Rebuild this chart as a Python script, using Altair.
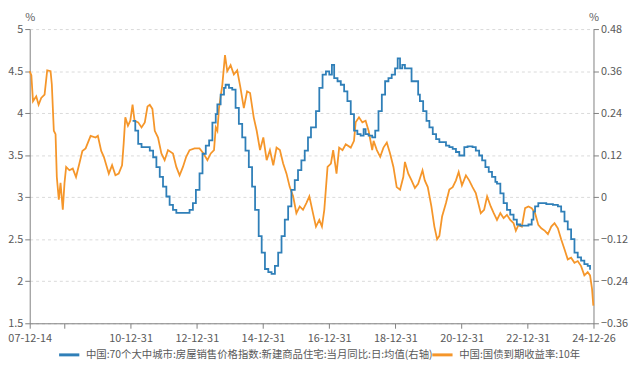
import altair as alt
import pandas as pd

BLUE_NAME = "中国:70个大中城市:房屋销售价格指数:新建商品住宅:当月同比:日:均值(右轴)"
ORANGE_NAME = "中国:国债到期收益率:10年"
BLUE = "#2f7fb8"
ORANGE = "#f5962a"
AX = "#808080"
TXT = "#595959"
FONT = "Noto Sans CJK SC"

# 10Y government bond yield (left axis, %), time in decimal years
yield_t = [2007.95, 2008.00, 2008.05, 2008.15, 2008.22, 2008.30, 2008.40, 2008.48, 2008.58, 2008.62,
           2008.68, 2008.73, 2008.77, 2008.83, 2008.88, 2008.95, 2009.00, 2009.05, 2009.15, 2009.25,
           2009.35, 2009.45, 2009.54, 2009.64, 2009.79, 2009.94, 2010.01, 2010.11, 2010.19, 2010.34,
           2010.44, 2010.54, 2010.64, 2010.74, 2010.79, 2010.84, 2010.92, 2010.99, 2011.06, 2011.12,
           2011.23, 2011.33, 2011.43, 2011.51, 2011.58, 2011.66, 2011.73, 2011.83, 2011.93, 2012.03,
           2012.13, 2012.28, 2012.38, 2012.48, 2012.58, 2012.68, 2012.78, 2012.93, 2013.08, 2013.20,
           2013.32, 2013.42, 2013.52, 2013.57, 2013.62, 2013.67, 2013.77, 2013.85, 2013.92, 2014.02,
           2014.12, 2014.22, 2014.32, 2014.42, 2014.52, 2014.61, 2014.72, 2014.81, 2014.91, 2015.01,
           2015.11, 2015.21, 2015.31, 2015.41, 2015.51, 2015.61, 2015.71, 2015.81, 2015.91, 2016.01,
           2016.11, 2016.21, 2016.31, 2016.40, 2016.51, 2016.60, 2016.70, 2016.78, 2016.85, 2016.95,
           2017.05, 2017.12, 2017.22, 2017.30, 2017.40, 2017.50, 2017.65, 2017.75, 2017.80, 2017.90,
           2018.00, 2018.10, 2018.19, 2018.30, 2018.34, 2018.44, 2018.54, 2018.64, 2018.74, 2018.84,
           2018.94, 2019.04, 2019.14, 2019.24, 2019.29, 2019.39, 2019.49, 2019.59, 2019.69, 2019.82,
           2019.89, 2019.98, 2020.09, 2020.18, 2020.26, 2020.33, 2020.41, 2020.53, 2020.63, 2020.73,
           2020.83, 2020.91, 2021.01, 2021.13, 2021.23, 2021.33, 2021.43, 2021.58, 2021.68, 2021.77,
           2021.88, 2021.97, 2022.07, 2022.17, 2022.27, 2022.37, 2022.47, 2022.57, 2022.64, 2022.72,
           2022.82, 2022.92, 2023.02, 2023.12, 2023.22, 2023.32, 2023.41, 2023.52, 2023.61, 2023.71,
           2023.81, 2023.91, 2024.01, 2024.11, 2024.21, 2024.31, 2024.41, 2024.51, 2024.61, 2024.71,
           2024.81, 2024.88, 2024.94, 2024.98]
yield_v = [4.50, 4.45, 4.14, 4.20, 4.10, 4.18, 4.22, 4.51, 4.50, 4.34,
           3.79, 3.75, 3.24, 2.97, 3.17, 2.85, 3.17, 3.36, 3.32, 3.34,
           3.24, 3.40, 3.55, 3.58, 3.73, 3.71, 3.73, 3.55, 3.48, 3.28,
           3.38, 3.26, 3.28, 3.38, 3.64, 3.95, 3.85, 3.91, 4.10, 3.91,
           3.89, 3.83, 3.89, 4.08, 4.10, 4.05, 3.79, 3.71, 3.52, 3.44,
           3.56, 3.52, 3.36, 3.26, 3.36, 3.48, 3.56, 3.58, 3.58, 3.52,
           3.44, 3.52, 3.56, 3.83, 3.79, 4.06, 4.34, 4.69, 4.50, 4.57,
           4.46, 4.51, 4.30, 4.06, 4.26, 4.24, 3.95, 3.79, 3.56, 3.71,
           3.44, 3.56, 3.38, 3.59, 3.56, 3.40, 3.28, 3.12, 3.01, 2.81,
           2.89, 2.85, 2.93, 3.01, 2.81, 2.65, 2.73, 2.65, 2.85, 3.36,
           3.40, 3.56, 3.28, 3.59, 3.56, 3.63, 3.59, 3.67, 3.89, 3.95,
           3.89, 3.91, 3.79, 3.56, 3.67, 3.56, 3.48, 3.59, 3.65, 3.52,
           3.36, 3.12, 3.09, 3.24, 3.42, 3.28, 3.20, 3.11, 3.16, 3.32,
           3.20, 3.12, 2.89, 2.65, 2.50, 2.54, 2.77, 2.93, 3.09, 3.12,
           3.20, 3.30, 3.14, 3.26, 3.20, 3.12, 3.05, 2.81, 2.85, 3.01,
           2.89, 2.81, 2.73, 2.81, 2.75, 2.79, 2.73, 2.69, 2.60, 2.67,
           2.65, 2.87, 2.89, 2.87, 2.81, 2.67, 2.63, 2.60, 2.56, 2.65,
           2.69, 2.63, 2.50, 2.38, 2.26, 2.28, 2.22, 2.24, 2.18, 2.07,
           2.11, 2.07, 1.91, 1.71]

# 70-city new home price YoY, mean (right axis), time in decimal years
house_t = [2011.06, 2011.14, 2011.23, 2011.33, 2011.48, 2011.58, 2011.68, 2011.78, 2011.88, 2011.98,
           2012.08, 2012.18, 2012.28, 2012.38, 2012.53, 2012.68, 2012.78, 2012.88, 2012.97, 2013.08,
           2013.17, 2013.27, 2013.37, 2013.47, 2013.57, 2013.62, 2013.72, 2013.82, 2013.87, 2013.97,
           2014.07, 2014.17, 2014.27, 2014.37, 2014.47, 2014.57, 2014.67, 2014.76, 2014.87, 2014.96,
           2015.06, 2015.16, 2015.26, 2015.36, 2015.46, 2015.56, 2015.66, 2015.76, 2015.86, 2015.96,
           2016.06, 2016.16, 2016.26, 2016.36, 2016.45, 2016.60, 2016.70, 2016.80, 2016.90, 2017.00,
           2017.08, 2017.15, 2017.25, 2017.35, 2017.45, 2017.55, 2017.65, 2017.75, 2017.85, 2017.95,
           2018.04, 2018.10, 2018.19, 2018.30, 2018.39, 2018.49, 2018.59, 2018.69, 2018.79, 2018.89,
           2018.99, 2019.07, 2019.14, 2019.21, 2019.29, 2019.49, 2019.69, 2019.74, 2019.84, 2019.94,
           2020.03, 2020.13, 2020.23, 2020.33, 2020.43, 2020.53, 2020.63, 2020.73, 2020.83, 2020.93,
           2021.03, 2021.08, 2021.18, 2021.33, 2021.43, 2021.53, 2021.62, 2021.72, 2021.82, 2021.92,
           2022.02, 2022.07, 2022.17, 2022.27, 2022.37, 2022.47, 2022.57, 2022.67, 2022.77, 2022.92,
           2023.02, 2023.12, 2023.17, 2023.22, 2023.32, 2023.41, 2023.56, 2023.76, 2023.91, 2024.01,
           2024.11, 2024.21, 2024.31, 2024.41, 2024.51, 2024.61, 2024.71, 2024.81, 2024.88]
house_v = [0.218, 0.190, 0.152, 0.143, 0.143, 0.133, 0.114, 0.086, 0.058, 0.030,
           0.002, -0.022, -0.036, -0.045, -0.045, -0.045, -0.036, -0.017, 0.021, 0.068,
           0.124, 0.147, 0.162, 0.213, 0.237, 0.265, 0.293, 0.312, 0.321, 0.312,
           0.307, 0.255, 0.209, 0.171, 0.133, 0.086, 0.030, -0.036, -0.111, -0.158,
           -0.205, -0.214, -0.219, -0.196, -0.158, -0.111, -0.064, -0.026, 0.021, 0.049,
           0.077, 0.105, 0.133, 0.171, 0.199, 0.246, 0.312, 0.350, 0.359, 0.350,
           0.378, 0.340, 0.331, 0.321, 0.302, 0.274, 0.237, 0.190, 0.180, 0.176,
           0.194, 0.180, 0.176, 0.171, 0.190, 0.246, 0.293, 0.331, 0.340, 0.350,
           0.368, 0.396, 0.368, 0.378, 0.368, 0.331, 0.293, 0.274, 0.246, 0.218,
           0.199, 0.180, 0.166, 0.157, 0.157, 0.147, 0.143, 0.138, 0.129, 0.119,
           0.119, 0.143, 0.145, 0.143, 0.133, 0.119, 0.105, 0.086, 0.072, 0.058,
           0.044, 0.039, 0.011, -0.017, -0.036, -0.050, -0.064, -0.078, -0.081, -0.081,
           -0.078, -0.064, -0.041, -0.026, -0.017, -0.017, -0.020, -0.022, -0.026, -0.041,
           -0.069, -0.092, -0.120, -0.158, -0.172, -0.181, -0.191, -0.196, -0.207]

x_start = "2007-12-14"
x_end = "2024-12-26"
tick_dates = ["2007-12-14", "2008-12-31", "2010-12-31", "2012-12-31", "2014-12-31",
              "2016-12-31", "2018-12-31", "2020-12-31", "2022-12-31", "2024-12-26"]
left_ticks = [5, 4.5, 4, 3.5, 3, 2.5, 2, 1.5]
right_ticks = [0.48, 0.36, 0.24, 0.12, 0, -0.12, -0.24, -0.36]


def to_date(y):
    yr = int(y)
    s = pd.Timestamp(year=yr, month=1, day=1)
    e = pd.Timestamp(year=yr + 1, month=1, day=1)
    return (s + (e - s) * (y - yr)).normalize()


def dt(s):
    y, m, d = map(int, s.split("-"))
    return alt.DateTime(year=y, month=m, date=d)


df_o = pd.DataFrame({"date": [to_date(t) for t in yield_t], "v": yield_v, "series": ORANGE_NAME})
df_b = pd.DataFrame({"date": [to_date(t) for t in house_t], "v": house_v, "series": BLUE_NAME})

x_enc = alt.X(
    "date:T",
    title="",
    scale=alt.Scale(domain=[dt(x_start), dt(x_end)], nice=False),
    axis=alt.Axis(values=[dt(s) for s in tick_dates], format="%y-%m-%d",
                  labelExpr="year(datum.value) == 2008 ? '' : datum.label",
                  labelOverlap=False, labelFlush=False, grid=False,
                  tickSize=5, labelPadding=4, domainColor=AX, tickColor=AX,
                  labelColor=TXT, labelFontSize=11),
)


def legend_at(x):
    return alt.Legend(orient="none", legendX=x, legendY=318, direction="horizontal",
                      title=None, symbolType="stroke", symbolStrokeWidth=3, symbolSize=420,
                      labelFontSize=10.5, labelColor=TXT, labelLimit=500, labelOffset=5,
                      padding=0)


title_kw = dict(titleAngle=0, titleX=0, titleY=-12, titleAlign="center", titleBaseline="middle",
                titleFontSize=11, titleFontWeight="normal", titleColor=TXT)

orange = alt.Chart(df_o).mark_line(strokeWidth=1.8).encode(
    x=x_enc,
    y=alt.Y("v:Q", scale=alt.Scale(domain=[1.5, 5], nice=False, zero=False),
            axis=alt.Axis(values=left_ticks, format=".1~f", title="%", **title_kw,
                          grid=True, gridDash=[3, 3], gridColor="#d9d9d9",
                          domainColor=AX, tickColor=AX, tickSize=5, labelColor=TXT,
                          labelFontSize=11, labelPadding=2)),
    stroke=alt.Stroke("series:N", scale=alt.Scale(domain=[ORANGE_NAME], range=[ORANGE]),
                      legend=legend_at(406)),
)

blue = alt.Chart(df_b).mark_line(strokeWidth=1.8, interpolate="step-after").encode(
    x=x_enc,
    y=alt.Y("v:Q", scale=alt.Scale(domain=[-0.36, 0.48], nice=False, zero=False),
            axis=alt.Axis(orient="right", values=right_ticks, format=".2~f", title="%", **title_kw,
                          grid=False, domainColor=AX, tickColor=AX, tickSize=5,
                          labelColor=TXT, labelFontSize=11, labelPadding=2)),
    color=alt.Color("series:N", scale=alt.Scale(domain=[BLUE_NAME], range=[BLUE]),
                    legend=legend_at(28)),
)

chart = alt.layer(orange, blue).resolve_scale(y="independent").properties(
    width=571, height=298,
    autosize=alt.AutoSizeParams(type="none"),
    padding={"left": 22, "top": 19, "right": 39, "bottom": 46},
).configure(font=FONT).configure_view(stroke=None)

chart.save("out.html", embed_options={"renderer": "svg", "actions": False})
